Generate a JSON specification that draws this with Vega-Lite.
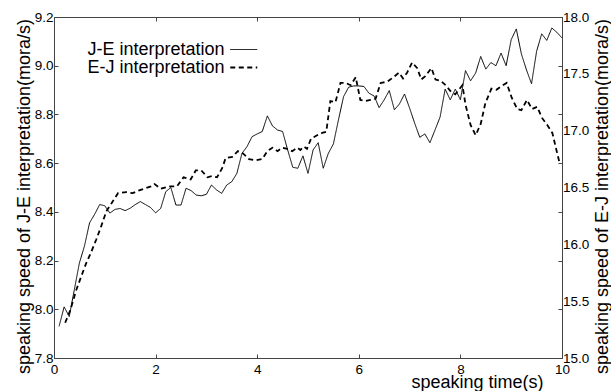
{
  "$schema": "https://vega.github.io/schema/vega-lite/v6.json",
  "width": 508,
  "height": 341,
  "autosize": {"type": "none"},
  "padding": {"left": 54, "top": 17, "right": 49, "bottom": 33},
  "background": "white",
  "config": {
    "font": "Liberation Sans",
    "view": {"stroke": "#444", "strokeWidth": 1},
    "axis": {
      "labelFont": "Liberation Sans", "labelFontSize": 13.5, "labelColor": "black",
      "titleFont": "Liberation Sans", "titleFontSize": 18, "titleFontWeight": "normal", "titleColor": "black",
      "grid": false, "domainColor": "#444", "tickColor": "#444",
      "labelFlush": false, "labelOverlap": false
    },
    "legend": {
      "orient": "none", "title": null, "symbolType": "M-2,0H2", "symbolSize": 182.25,
      "labelAlign": "right", "labelOffset": -28.25, "labelFontSize": 18, "labelFont": "Liberation Sans", "labelColor": "black",
      "symbolStrokeColor": "black", "padding": 0, "rowPadding": -1
    }
  },
  "datasets": {
    "je": [
      {"t":0.1,"speed":7.93,"series":"J-E interpretation"},{"t":0.2,"speed":8.01,"series":"J-E interpretation"},{"t":0.3,"speed":7.97,"series":"J-E interpretation"},{"t":0.4,"speed":8.08,"series":"J-E interpretation"},{"t":0.5,"speed":8.19,"series":"J-E interpretation"},{"t":0.6,"speed":8.26,"series":"J-E interpretation"},{"t":0.7,"speed":8.355,"series":"J-E interpretation"},{"t":0.8,"speed":8.39,"series":"J-E interpretation"},{"t":0.9,"speed":8.43,"series":"J-E interpretation"},{"t":1.0,"speed":8.425,"series":"J-E interpretation"},
      {"t":1.1,"speed":8.395,"series":"J-E interpretation"},{"t":1.2,"speed":8.41,"series":"J-E interpretation"},{"t":1.3,"speed":8.414,"series":"J-E interpretation"},{"t":1.4,"speed":8.405,"series":"J-E interpretation"},{"t":1.5,"speed":8.415,"series":"J-E interpretation"},{"t":1.6,"speed":8.43,"series":"J-E interpretation"},{"t":1.7,"speed":8.442,"series":"J-E interpretation"},{"t":1.8,"speed":8.43,"series":"J-E interpretation"},{"t":1.9,"speed":8.418,"series":"J-E interpretation"},{"t":2.0,"speed":8.396,"series":"J-E interpretation"},
      {"t":2.1,"speed":8.414,"series":"J-E interpretation"},{"t":2.2,"speed":8.483,"series":"J-E interpretation"},{"t":2.3,"speed":8.5,"series":"J-E interpretation"},{"t":2.4,"speed":8.428,"series":"J-E interpretation"},{"t":2.5,"speed":8.428,"series":"J-E interpretation"},{"t":2.6,"speed":8.497,"series":"J-E interpretation"},{"t":2.7,"speed":8.487,"series":"J-E interpretation"},{"t":2.8,"speed":8.469,"series":"J-E interpretation"},{"t":2.9,"speed":8.466,"series":"J-E interpretation"},{"t":3.0,"speed":8.472,"series":"J-E interpretation"},
      {"t":3.1,"speed":8.51,"series":"J-E interpretation"},{"t":3.2,"speed":8.49,"series":"J-E interpretation"},{"t":3.3,"speed":8.476,"series":"J-E interpretation"},{"t":3.4,"speed":8.51,"series":"J-E interpretation"},{"t":3.5,"speed":8.524,"series":"J-E interpretation"},{"t":3.6,"speed":8.558,"series":"J-E interpretation"},{"t":3.7,"speed":8.64,"series":"J-E interpretation"},{"t":3.8,"speed":8.668,"series":"J-E interpretation"},{"t":3.9,"speed":8.709,"series":"J-E interpretation"},{"t":4.0,"speed":8.72,"series":"J-E interpretation"},
      {"t":4.1,"speed":8.73,"series":"J-E interpretation"},{"t":4.2,"speed":8.794,"series":"J-E interpretation"},{"t":4.3,"speed":8.753,"series":"J-E interpretation"},{"t":4.4,"speed":8.736,"series":"J-E interpretation"},{"t":4.5,"speed":8.73,"series":"J-E interpretation"},{"t":4.6,"speed":8.654,"series":"J-E interpretation"},{"t":4.7,"speed":8.583,"series":"J-E interpretation"},{"t":4.8,"speed":8.579,"series":"J-E interpretation"},{"t":4.9,"speed":8.63,"series":"J-E interpretation"},{"t":5.0,"speed":8.558,"series":"J-E interpretation"},
      {"t":5.1,"speed":8.654,"series":"J-E interpretation"},{"t":5.2,"speed":8.684,"series":"J-E interpretation"},{"t":5.3,"speed":8.579,"series":"J-E interpretation"},{"t":5.4,"speed":8.64,"series":"J-E interpretation"},{"t":5.5,"speed":8.679,"series":"J-E interpretation"},{"t":5.6,"speed":8.778,"series":"J-E interpretation"},{"t":5.7,"speed":8.873,"series":"J-E interpretation"},{"t":5.8,"speed":8.912,"series":"J-E interpretation"},{"t":5.9,"speed":8.917,"series":"J-E interpretation"},{"t":6.0,"speed":8.917,"series":"J-E interpretation"},
      {"t":6.1,"speed":8.915,"series":"J-E interpretation"},{"t":6.2,"speed":8.887,"series":"J-E interpretation"},{"t":6.3,"speed":8.876,"series":"J-E interpretation"},{"t":6.4,"speed":8.828,"series":"J-E interpretation"},{"t":6.5,"speed":8.86,"series":"J-E interpretation"},{"t":6.6,"speed":8.898,"series":"J-E interpretation"},{"t":6.7,"speed":8.819,"series":"J-E interpretation"},{"t":6.8,"speed":8.843,"series":"J-E interpretation"},{"t":6.9,"speed":8.884,"series":"J-E interpretation"},{"t":7.0,"speed":8.826,"series":"J-E interpretation"},
      {"t":7.1,"speed":8.764,"series":"J-E interpretation"},{"t":7.2,"speed":8.706,"series":"J-E interpretation"},{"t":7.3,"speed":8.72,"series":"J-E interpretation"},{"t":7.4,"speed":8.684,"series":"J-E interpretation"},{"t":7.5,"speed":8.736,"series":"J-E interpretation"},{"t":7.6,"speed":8.789,"series":"J-E interpretation"},{"t":7.7,"speed":8.904,"series":"J-E interpretation"},{"t":7.8,"speed":8.86,"series":"J-E interpretation"},{"t":7.9,"speed":8.904,"series":"J-E interpretation"},{"t":8.0,"speed":8.86,"series":"J-E interpretation"},
      {"t":8.1,"speed":8.98,"series":"J-E interpretation"},{"t":8.2,"speed":8.938,"series":"J-E interpretation"},{"t":8.3,"speed":8.97,"series":"J-E interpretation"},{"t":8.4,"speed":9.038,"series":"J-E interpretation"},{"t":8.5,"speed":8.986,"series":"J-E interpretation"},{"t":8.6,"speed":9.013,"series":"J-E interpretation"},{"t":8.7,"speed":9.0,"series":"J-E interpretation"},{"t":8.8,"speed":9.052,"series":"J-E interpretation"},{"t":8.9,"speed":9.0,"series":"J-E interpretation"},{"t":9.0,"speed":9.107,"series":"J-E interpretation"},
      {"t":9.1,"speed":9.151,"series":"J-E interpretation"},{"t":9.2,"speed":9.049,"series":"J-E interpretation"},{"t":9.3,"speed":8.983,"series":"J-E interpretation"},{"t":9.4,"speed":8.926,"series":"J-E interpretation"},{"t":9.5,"speed":9.059,"series":"J-E interpretation"},{"t":9.6,"speed":9.131,"series":"J-E interpretation"},{"t":9.7,"speed":9.104,"series":"J-E interpretation"},{"t":9.8,"speed":9.155,"series":"J-E interpretation"},{"t":9.9,"speed":9.137,"series":"J-E interpretation"},{"t":10.0,"speed":9.114,"series":"J-E interpretation"}
    ],
    "ej": [
      {"t":0.22,"speed":15.31,"series":"E-J interpretation"},{"t":0.32,"speed":15.42,"series":"E-J interpretation"},{"t":0.44,"speed":15.6,"series":"E-J interpretation"},{"t":0.53,"speed":15.71,"series":"E-J interpretation"},{"t":0.63,"speed":15.83,"series":"E-J interpretation"},{"t":0.73,"speed":15.93,"series":"E-J interpretation"},{"t":0.83,"speed":16.04,"series":"E-J interpretation"},{"t":0.93,"speed":16.16,"series":"E-J interpretation"},{"t":1.03,"speed":16.29,"series":"E-J interpretation"},{"t":1.13,"speed":16.36,"series":"E-J interpretation"},
      {"t":1.26,"speed":16.45,"series":"E-J interpretation"},{"t":1.42,"speed":16.46,"series":"E-J interpretation"},{"t":1.55,"speed":16.45,"series":"E-J interpretation"},{"t":1.65,"speed":16.47,"series":"E-J interpretation"},{"t":1.78,"speed":16.49,"series":"E-J interpretation"},{"t":1.91,"speed":16.51,"series":"E-J interpretation"},{"t":1.98,"speed":16.53,"series":"E-J interpretation"},{"t":2.1,"speed":16.49,"series":"E-J interpretation"},{"t":2.29,"speed":16.51,"series":"E-J interpretation"},{"t":2.42,"speed":16.51,"series":"E-J interpretation"},
      {"t":2.55,"speed":16.59,"series":"E-J interpretation"},{"t":2.69,"speed":16.57,"series":"E-J interpretation"},{"t":2.79,"speed":16.65,"series":"E-J interpretation"},{"t":2.9,"speed":16.65,"series":"E-J interpretation"},{"t":3.02,"speed":16.59,"series":"E-J interpretation"},{"t":3.11,"speed":16.6,"series":"E-J interpretation"},{"t":3.21,"speed":16.59,"series":"E-J interpretation"},{"t":3.31,"speed":16.67,"series":"E-J interpretation"},{"t":3.38,"speed":16.76,"series":"E-J interpretation"},{"t":3.51,"speed":16.77,"series":"E-J interpretation"},
      {"t":3.62,"speed":16.82,"series":"E-J interpretation"},{"t":3.72,"speed":16.8,"series":"E-J interpretation"},{"t":3.84,"speed":16.75,"series":"E-J interpretation"},{"t":3.97,"speed":16.74,"series":"E-J interpretation"},{"t":4.1,"speed":16.75,"series":"E-J interpretation"},{"t":4.2,"speed":16.82,"series":"E-J interpretation"},{"t":4.3,"speed":16.85,"series":"E-J interpretation"},{"t":4.4,"speed":16.82,"series":"E-J interpretation"},{"t":4.49,"speed":16.85,"series":"E-J interpretation"},{"t":4.59,"speed":16.84,"series":"E-J interpretation"},
      {"t":4.69,"speed":16.82,"series":"E-J interpretation"},{"t":4.79,"speed":16.85,"series":"E-J interpretation"},{"t":4.85,"speed":16.83,"series":"E-J interpretation"},{"t":4.92,"speed":16.86,"series":"E-J interpretation"},{"t":4.98,"speed":16.84,"series":"E-J interpretation"},{"t":5.06,"speed":16.93,"series":"E-J interpretation"},{"t":5.18,"speed":16.96,"series":"E-J interpretation"},{"t":5.28,"speed":16.98,"series":"E-J interpretation"},{"t":5.36,"speed":16.99,"series":"E-J interpretation"},{"t":5.44,"speed":17.26,"series":"E-J interpretation"},
      {"t":5.54,"speed":17.25,"series":"E-J interpretation"},{"t":5.64,"speed":17.42,"series":"E-J interpretation"},{"t":5.74,"speed":17.42,"series":"E-J interpretation"},{"t":5.84,"speed":17.4,"series":"E-J interpretation"},{"t":5.94,"speed":17.47,"series":"E-J interpretation"},{"t":6.03,"speed":17.27,"series":"E-J interpretation"},{"t":6.13,"speed":17.26,"series":"E-J interpretation"},{"t":6.23,"speed":17.27,"series":"E-J interpretation"},{"t":6.33,"speed":17.28,"series":"E-J interpretation"},{"t":6.43,"speed":17.42,"series":"E-J interpretation"},
      {"t":6.56,"speed":17.43,"series":"E-J interpretation"},{"t":6.68,"speed":17.47,"series":"E-J interpretation"},{"t":6.79,"speed":17.51,"series":"E-J interpretation"},{"t":6.87,"speed":17.46,"series":"E-J interpretation"},{"t":6.95,"speed":17.51,"series":"E-J interpretation"},{"t":7.05,"speed":17.6,"series":"E-J interpretation"},{"t":7.15,"speed":17.55,"series":"E-J interpretation"},{"t":7.23,"speed":17.45,"series":"E-J interpretation"},{"t":7.31,"speed":17.48,"series":"E-J interpretation"},{"t":7.43,"speed":17.55,"series":"E-J interpretation"},
      {"t":7.51,"speed":17.45,"series":"E-J interpretation"},{"t":7.61,"speed":17.44,"series":"E-J interpretation"},{"t":7.71,"speed":17.4,"series":"E-J interpretation"},{"t":7.8,"speed":17.35,"series":"E-J interpretation"},{"t":7.9,"speed":17.32,"series":"E-J interpretation"},{"t":8.04,"speed":17.4,"series":"E-J interpretation"},{"t":8.1,"speed":17.23,"series":"E-J interpretation"},{"t":8.2,"speed":17.05,"series":"E-J interpretation"},{"t":8.3,"speed":16.96,"series":"E-J interpretation"},{"t":8.4,"speed":17.06,"series":"E-J interpretation"},
      {"t":8.49,"speed":17.24,"series":"E-J interpretation"},{"t":8.61,"speed":17.37,"series":"E-J interpretation"},{"t":8.71,"speed":17.36,"series":"E-J interpretation"},{"t":8.8,"speed":17.39,"series":"E-J interpretation"},{"t":8.91,"speed":17.42,"series":"E-J interpretation"},{"t":9.01,"speed":17.29,"series":"E-J interpretation"},{"t":9.12,"speed":17.19,"series":"E-J interpretation"},{"t":9.2,"speed":17.18,"series":"E-J interpretation"},{"t":9.31,"speed":17.27,"series":"E-J interpretation"},{"t":9.41,"speed":17.19,"series":"E-J interpretation"},
      {"t":9.51,"speed":17.21,"series":"E-J interpretation"},{"t":9.61,"speed":17.11,"series":"E-J interpretation"},{"t":9.71,"speed":17.05,"series":"E-J interpretation"},{"t":9.81,"speed":16.98,"series":"E-J interpretation"},{"t":9.89,"speed":16.83,"series":"E-J interpretation"},{"t":9.95,"speed":16.72,"series":"E-J interpretation"}
    ]
  },
  "layer": [
    {
      "layer": [
        {
          "data": {"name": "je"},
          "mark": {"type": "line", "color": "black"},
          "encoding": {
            "x": {"field": "t", "type": "quantitative",
              "scale": {"domain": [0, 10], "nice": false, "zero": false},
              "axis": {"orient": "bottom", "values": [0,2,4,6,8,10], "format": "d", "tickSize": -4, "labelPadding": 8.5,
                "title": "speaking time(s)", "titleX": 423, "titleY": 29, "titleAlign": "center", "titleBaseline": "alphabetic"}},
            "y": {"field": "speed", "type": "quantitative",
              "scale": {"domain": [7.8, 9.2], "nice": false, "zero": false},
              "axis": {"orient": "left", "values": [7.8,8.0,8.2,8.4,8.6,8.8,9.0,9.2], "format": ".1f", "tickSize": -4, "labelPadding": 5,
                "title": "speaking speed of J-E interpretation(mora/s)", "titleAngle": 270, "titleX": -24.5, "titleY": 179, "titleAlign": "center", "titleBaseline": "alphabetic"}},
            "strokeDash": {"field": "series", "type": "nominal",
              "scale": {"domain": ["J-E interpretation", "E-J interpretation"], "range": [[1, 0], [5, 3.5]]},
              "legend": {"legendX": 180.75, "legendY": 23.5}},
            "strokeWidth": {"field": "series", "type": "nominal",
              "scale": {"domain": ["J-E interpretation", "E-J interpretation"], "range": [1, 1.8]},
              "legend": {"legendX": 180.75, "legendY": 23.5}}
          }
        },
        {
          "data": {"name": "je"},
          "mark": {"type": "line", "opacity": 0},
          "encoding": {
            "x": {"field": "t", "type": "quantitative",
              "axis": {"orient": "top", "values": [2,4,6,8], "labels": false, "domain": false, "tickSize": -4, "title": null}},
            "y": {"field": "speed", "type": "quantitative",
              "axis": {"orient": "right", "values": [7.8,8.0,8.2,8.4,8.6,8.8,9.0,9.2], "labels": false, "domain": false, "tickSize": -4, "title": null}}
          }
        }
      ],
      "resolve": {"axis": {"x": "independent", "y": "independent"}}
    },
    {
      "data": {"name": "ej"},
      "mark": {"type": "line", "color": "black"},
      "encoding": {
        "x": {"field": "t", "type": "quantitative", "axis": null},
        "y": {"field": "speed", "type": "quantitative",
          "scale": {"domain": [15, 18], "nice": false, "zero": false},
          "axis": {"orient": "right", "values": [15,15.5,16,16.5,17,17.5,18], "format": ".1f", "ticks": false, "labelPadding": 0.5,
            "title": "speaking speed of E-J interpretation(mora/s)", "titleAngle": 270, "titleX": 45, "titleY": 179, "titleAlign": "center", "titleBaseline": "alphabetic"}},
        "strokeDash": {"field": "series", "type": "nominal",
          "scale": {"domain": ["J-E interpretation", "E-J interpretation"], "range": [[1, 0], [5, 3.5]]},
          "legend": {"legendX": 180.75, "legendY": 23.5}},
        "strokeWidth": {"field": "series", "type": "nominal",
          "scale": {"domain": ["J-E interpretation", "E-J interpretation"], "range": [1, 1.8]},
          "legend": {"legendX": 180.75, "legendY": 23.5}}
      }
    }
  ],
  "resolve": {"scale": {"y": "independent"}}
}
